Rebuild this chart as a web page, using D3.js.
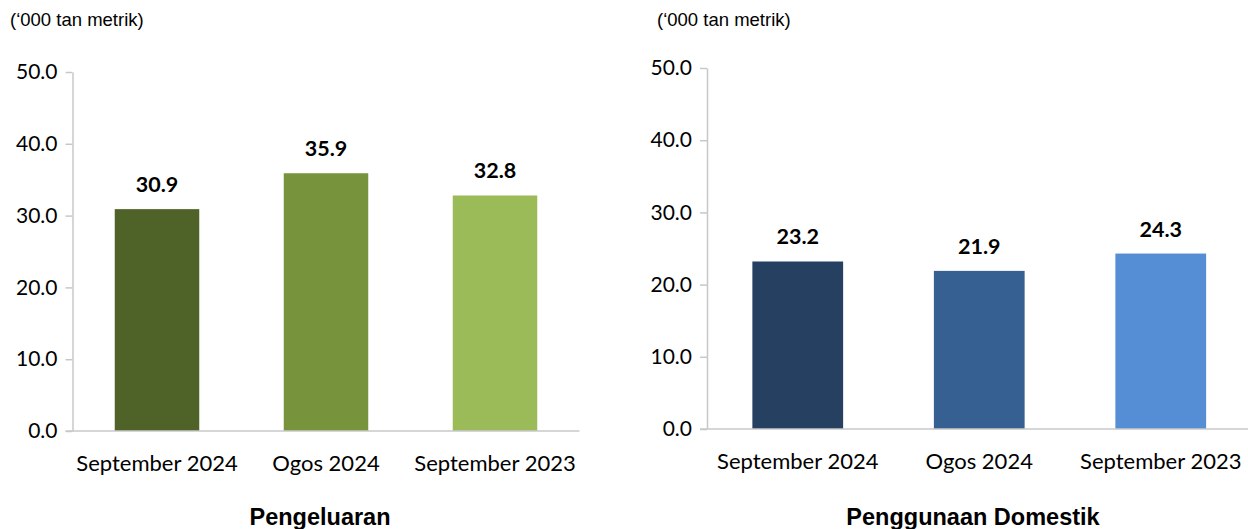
<!DOCTYPE html>
<html>
<head>
<meta charset="utf-8">
<script src="https://cdn.jsdelivr.net/npm/d3@7"></script>
<style>
  body { margin: 0; background: #fff; }
  svg { display: block; }
</style>
</head>
<body>
<div id="chart"></div>
<script>
var W = 1248, H = 529;

// data
var categories = ["September 2024", "Ogos 2024", "September 2023"];
var pengeluaran = [30.9, 35.9, 32.8];
var domestik = [23.2, 21.9, 24.3];
var yTicks = [0, 10, 20, 30, 40, 50];
var unitLabel = "(\u2018000 tan metrik)";

var svg = d3.select("#chart").append("svg")
  .attr("width", W)
  .attr("height", H);

// one panel
function panel(cfg) {
  var g = svg.append("g");

  var x = d3.scaleBand()
    .domain(categories)
    .range([cfg.x0, cfg.x1])
    .paddingInner(0.5)
    .paddingOuter(0.25);

  var y = d3.scaleLinear()
    .domain([0, 50])
    .range([cfg.y0, cfg.y50]);

  // y axis
  var ya = g.append("g")
    .attr("transform", "translate(" + cfg.x0 + ",0)")
    .call(d3.axisLeft(y).tickValues(yTicks).tickSize(7).tickSizeOuter(0)
      .tickFormat(d3.format(".1f")));
  ya.select(".domain").attr("stroke", "#c8c8c8").attr("stroke-width", 1.5);
  ya.selectAll(".tick line").attr("stroke", "#c8c8c8").attr("stroke-width", 1.5);
  ya.selectAll(".tick text")
    .attr("x", -15)
    .attr("font-family", "Lato, 'Open Sans', sans-serif")
    .attr("font-size", "21px")
    .attr("fill", "#000");

  // bars
  g.selectAll("rect.bar")
    .data(cfg.values)
    .enter()
    .append("rect")
    .attr("class", "bar")
    .attr("x", function(d, i) { return x(categories[i]); })
    .attr("width", x.bandwidth())
    .attr("y", function(d) { return y(d); })
    .attr("height", function(d) { return y(0) - y(d); })
    .attr("fill", function(d, i) { return cfg.colors[i]; });

  // value labels
  g.selectAll("text.val")
    .data(cfg.values)
    .enter()
    .append("text")
    .attr("class", "val")
    .attr("x", function(d, i) { return x(categories[i]) + x.bandwidth() / 2; })
    .attr("y", function(d) { return y(d) - 17; })
    .attr("text-anchor", "middle")
    .attr("font-family", "Lato, 'Open Sans', sans-serif")
    .attr("font-weight", "bold")
    .attr("font-size", "21.5px")
    .attr("fill", "#000")
    .text(function(d) { return d.toFixed(1); });

  // x axis
  var xa = g.append("g")
    .attr("transform", "translate(0," + cfg.y0 + ")")
    .call(d3.axisBottom(x).tickSize(0).tickSizeOuter(0).tickPadding(24));
  xa.select(".domain").attr("stroke", "#c8c8c8").attr("stroke-width", 1.5)
    .attr("d", "M" + (cfg.x0 - 7) + ",0H" + cfg.x1);
  xa.selectAll(".tick text")
    .attr("font-family", "Lato, 'Open Sans', sans-serif")
    .attr("font-size", "22px")
    .attr("fill", "#000");

  // unit
  g.append("text")
    .attr("x", cfg.unitX)
    .attr("y", 26)
    .attr("font-family", "'Liberation Sans', Arial, sans-serif")
    .attr("font-size", "18.5px")
    .attr("fill", "#000")
    .text(unitLabel);

  // title
  g.append("text")
    .attr("x", cfg.titleX)
    .attr("y", 525)
    .attr("text-anchor", "middle")
    .attr("font-family", "'Liberation Sans', Arial, sans-serif")
    .attr("font-weight", "bold")
    .attr("font-size", "23.5px")
    .attr("fill", "#000")
    .text(cfg.title);
}

panel({
  values: pengeluaran,
  colors: ["#4f6228", "#77933c", "#9bbb59"],
  x0: 72.5, x1: 579.5,
  y0: 431, y50: 72,
  unitX: 10, titleX: 320,
  title: "Pengeluaran"
});

panel({
  values: domestik,
  colors: ["#254061", "#366092", "#558ed5"],
  x0: 707, x1: 1251.5,
  y0: 429, y50: 68,
  unitX: 657, titleX: 973,
  title: "Penggunaan Domestik"
});
</script>
</body>
</html>
